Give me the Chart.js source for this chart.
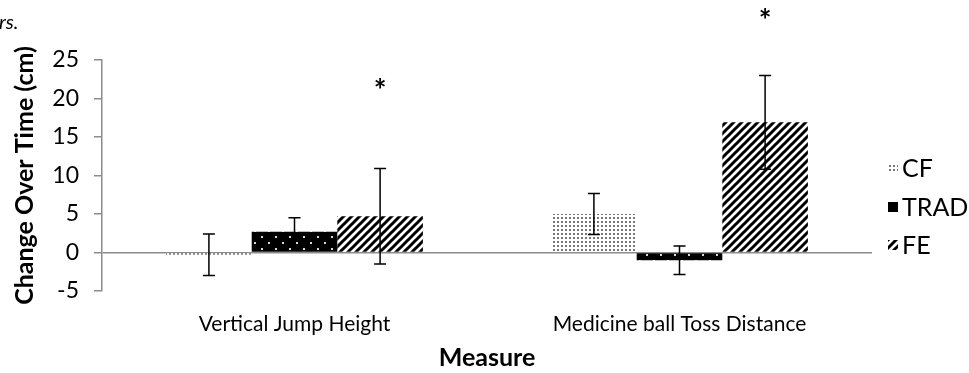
<!DOCTYPE html>
<html>
<head>
<meta charset="utf-8">
<script src="https://cdn.jsdelivr.net/npm/chart.js@4"></script>
<style>
  html, body { margin: 0; padding: 0; background: #fff; }
  .wrap { position: relative; width: 969px; height: 373px; overflow: hidden; }
  .caption { position: absolute; left: -1px; top: 9px; font: italic 20px Lato, sans-serif; color: #000; }
  canvas { position: absolute; left: 0; top: 0; }
</style>
</head>
<body>
<div class="wrap">
  <canvas id="chart" width="969" height="373"></canvas>
  <div class="caption">rs.</div>
</div>
<script>
const categories = ["Vertical Jump Height", "Medicine ball Toss Distance"];
const seriesNames = ["CF", "TRAD", "FE"];
const cfValues = [-0.3, 5.0];
const tradValues = [2.7, -1.0];
const feValues = [4.7, 16.9];
const cfErrors = [2.7, 2.65];
const tradErrors = [1.8, 1.85];
const feErrors = [6.2, 6.1];
const starValues = [21.7, 30.8]; // where the "*" sits above the FE bars
const yMin = -5;
const yMax = 25;
const yStep = 5;

const FONT = "Lato, 'Open Sans', sans-serif";
const axisGray = "#8c8c8c";

function makePattern(w, h, draw) {
  const c = document.createElement("canvas");
  c.width = w;
  c.height = h;
  const g = c.getContext("2d");
  draw(g, w, h);
  return document.getElementById("chart").getContext("2d").createPattern(c, "repeat");
}

// light dotted fill
const cfPattern = makePattern(4, 4, (g) => {
  g.fillStyle = "#fff";
  g.fillRect(0, 0, 4, 4);
  g.fillStyle = "#777";
  g.fillRect(1, 1, 2, 2);
});

// black with white dots
const tradPattern = makePattern(14, 12, (g) => {
  g.fillStyle = "#000";
  g.fillRect(0, 0, 14, 12);
  g.fillStyle = "#d8d8d8";
  g.fillRect(2, 2, 2, 2);
  g.fillRect(9, 8, 2, 2);
});

// diagonal stripes
const fePattern = makePattern(8, 8, (g) => {
  g.fillStyle = "#fff";
  g.fillRect(0, 0, 8, 8);
  g.strokeStyle = "#000";
  g.lineWidth = 3;
  g.beginPath();
  for (let o = -8; o <= 16; o += 8) {
    g.moveTo(o - 2, 10);
    g.lineTo(o + 10, -2);
  }
  g.stroke();
});

const patterns = [cfPattern, tradPattern, fePattern];
const errorSets = [cfErrors, tradErrors, feErrors];

const errorBarPlugin = {
  id: "errorBars",
  afterDatasetsDraw(chart) {
    const ctx = chart.ctx;
    const y = chart.scales.y;
    ctx.save();
    ctx.strokeStyle = "#000";
    ctx.lineWidth = 1.5;
    chart.data.datasets.forEach((ds, i) => {
      const meta = chart.getDatasetMeta(i);
      meta.data.forEach((bar, j) => {
        const v = ds.data[j];
        const e = errorSets[i][j];
        const top = y.getPixelForValue(v + e);
        const bot = y.getPixelForValue(v - e);
        ctx.beginPath();
        ctx.moveTo(bar.x, top);
        ctx.lineTo(bar.x, bot);
        ctx.moveTo(bar.x - 6, top);
        ctx.lineTo(bar.x + 6, top);
        ctx.moveTo(bar.x - 6, bot);
        ctx.lineTo(bar.x + 6, bot);
        ctx.stroke();
      });
    });
    ctx.restore();
  },
  afterDraw(chart) {
    const ctx = chart.ctx;
    const y = chart.scales.y;
    ctx.save();
    // significance marks on FE
    const feMeta = chart.getDatasetMeta(2);
    ctx.fillStyle = "#000";
    ctx.font = "bold 30px " + FONT;
    ctx.textAlign = "center";
    ctx.textBaseline = "alphabetic";
    feMeta.data.forEach((bar, j) => {
      ctx.fillText("*", bar.x, y.getPixelForValue(starValues[j]) + 16);
    });
    // legend
    const legendY = [168, 207, 245];
    ctx.font = "25px " + FONT;
    ctx.textAlign = "left";
    ctx.textBaseline = "middle";
    seriesNames.forEach((name, i) => {
      ctx.fillStyle = patterns[i];
      ctx.fillRect(888, legendY[i] - 5, 10, 10);
      ctx.fillStyle = "#000";
      ctx.fillText(name, 902, legendY[i] + 1);
    });
    ctx.restore();
  },
};

new Chart(document.getElementById("chart"), {
  type: "bar",
  data: {
    labels: categories,
    datasets: [
      { label: seriesNames[0], data: cfValues, backgroundColor: cfPattern },
      { label: seriesNames[1], data: tradValues, backgroundColor: tradPattern },
      { label: seriesNames[2], data: feValues, backgroundColor: fePattern },
    ],
  },
  options: {
    responsive: false,
    animation: false,
    layout: { padding: { top: 60, right: 97, left: 0, bottom: 0 } },
    datasets: {
      bar: { categoryPercentage: 0.667, barPercentage: 1, borderWidth: 0 },
    },
    plugins: {
      legend: { display: false },
      tooltip: { enabled: false },
    },
    scales: {
      x: {
        grid: { display: false },
        border: { display: false },
        ticks: { color: "#000", font: { family: FONT, size: 21 }, padding: 13 },
        title: {
          display: true,
          text: "Measure",
          color: "#000",
          font: { family: FONT, size: 25, weight: "bold" },
          padding: { top: 0, bottom: 0 },
        },
        afterFit: (s) => { s.height = 82; },
      },
      y: {
        min: yMin,
        max: yMax,
        ticks: {
          stepSize: yStep,
          color: "#000",
          font: { family: FONT, size: 23 },
          padding: 15,
        },
        grid: {
          color: (c) => (c.tick && c.tick.value === 0 ? axisGray : "transparent"),
          tickColor: axisGray,
          tickLength: 8,
          lineWidth: 1.5,
        },
        border: { display: true, color: axisGray, width: 1.5 },
        title: {
          display: true,
          text: "Change Over Time (cm)",
          color: "#000",
          font: { family: FONT, size: 25, weight: "bold" },
          padding: { top: 10, bottom: 0 },
        },
        afterFit: (s) => { s.width = 102; },
      },
    },
  },
  plugins: [errorBarPlugin],
});
</script>
</body>
</html>
